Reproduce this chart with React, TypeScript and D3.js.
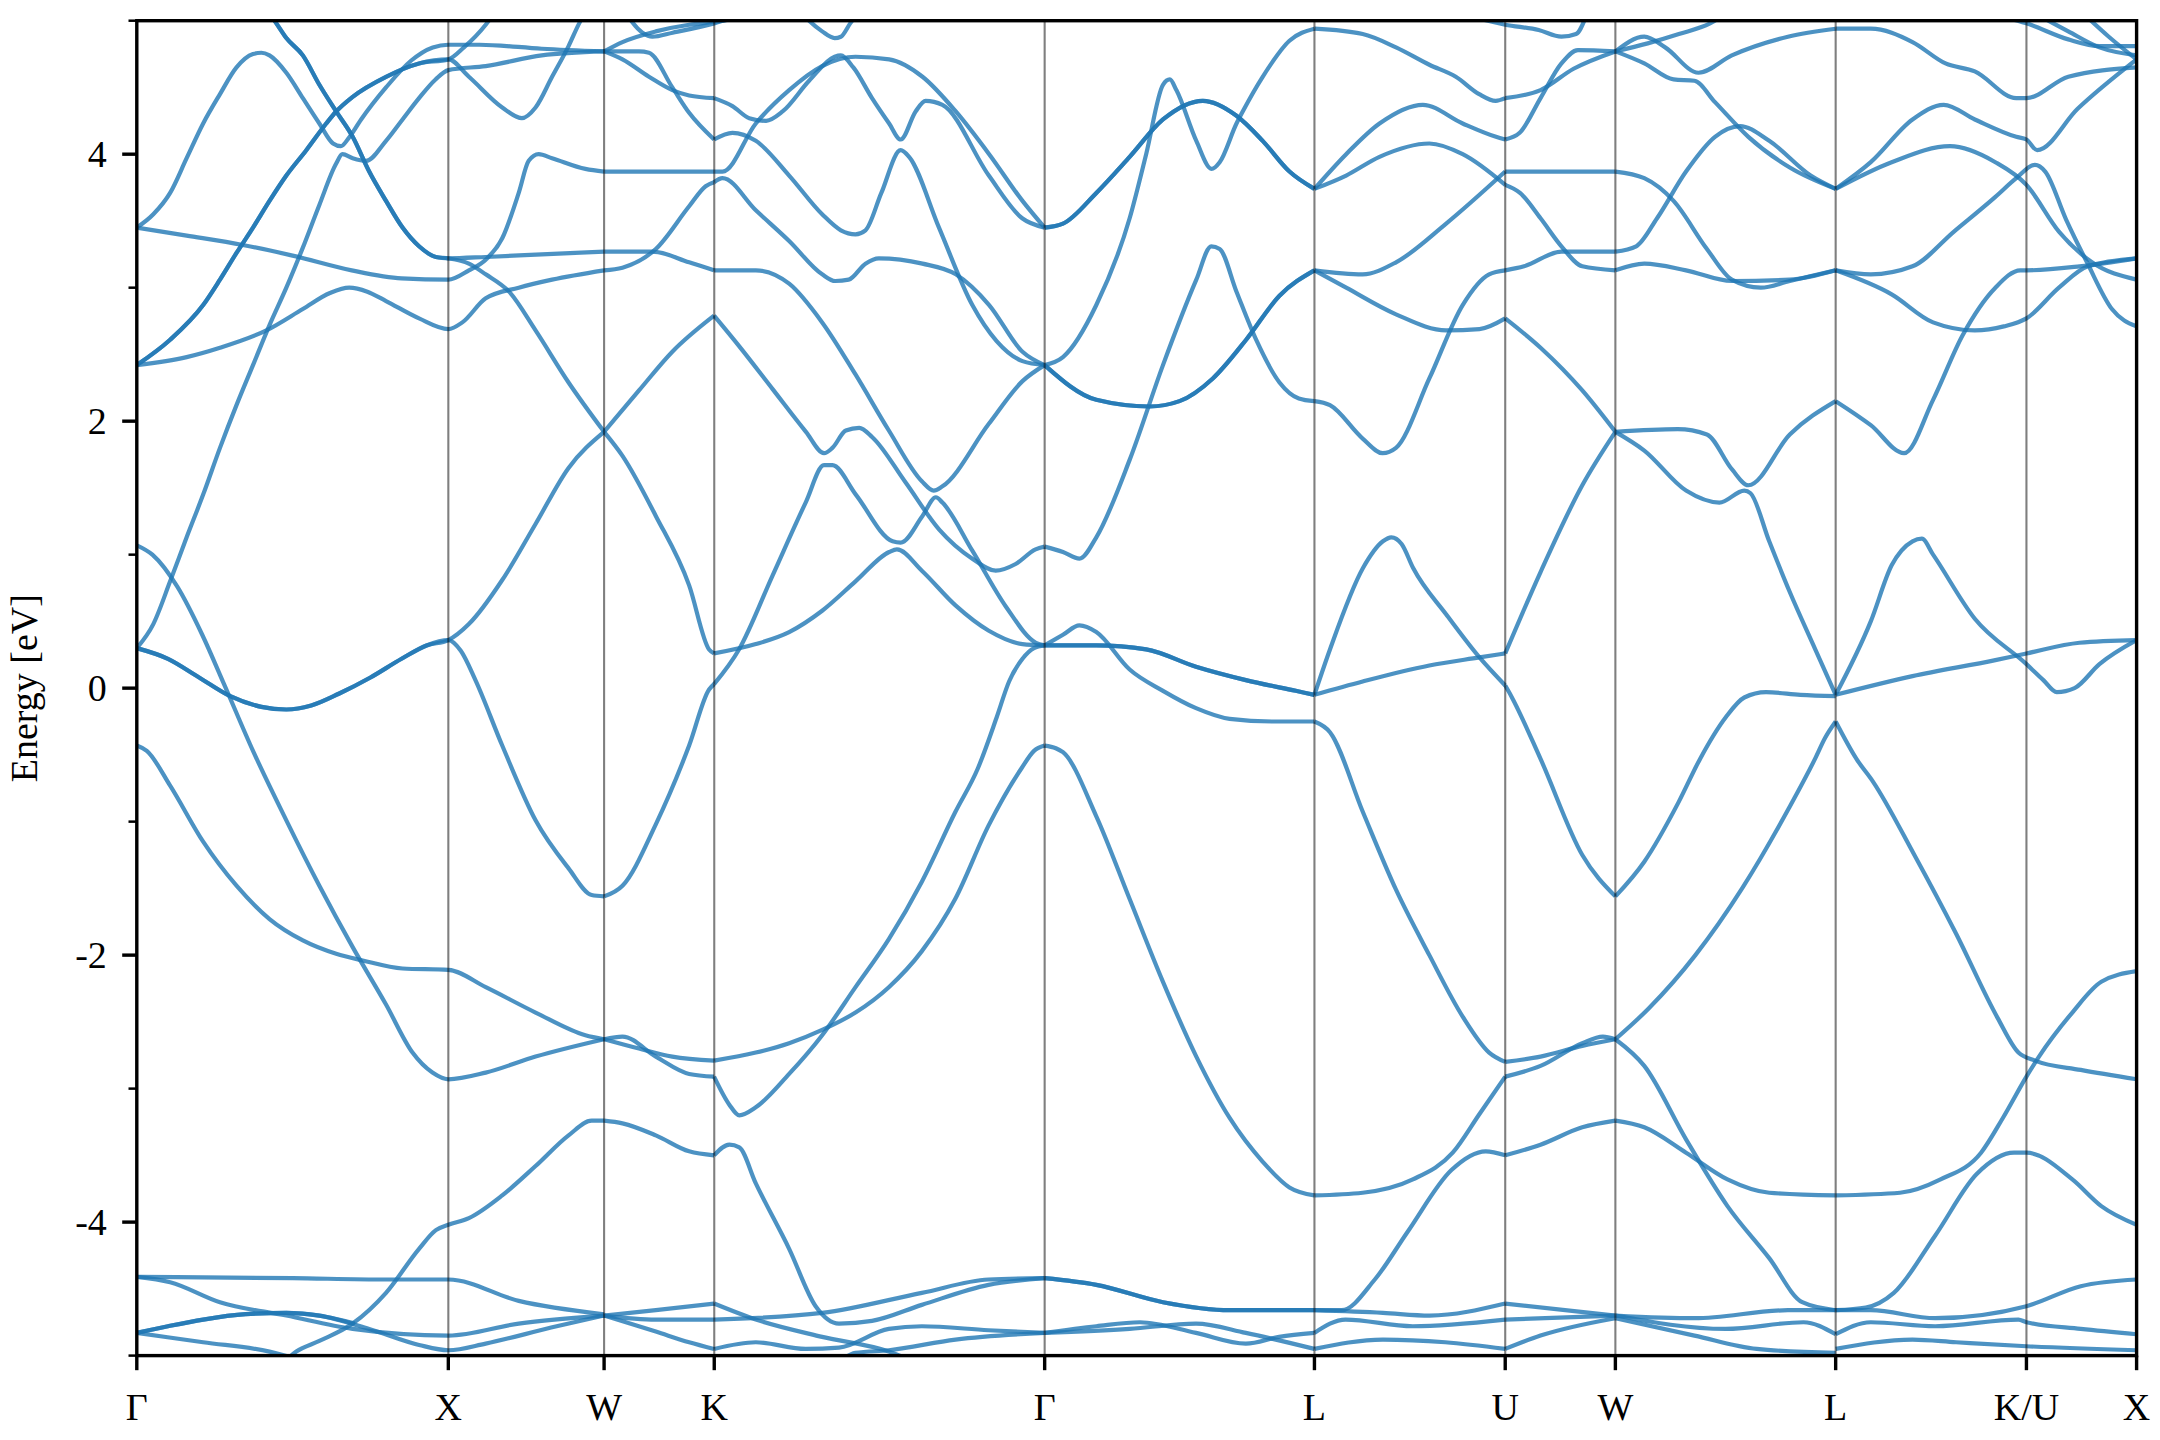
import React from 'react';
import * as d3 from 'd3';

type Pt = [number, number];
type Band = { pts: Pt[]; deg?: number };

// ---------- axis data ----------
const kLabels = ['Γ', 'X', 'W', 'K', 'Γ', 'L', 'U', 'W', 'L', 'K/U', 'X'];
const kTicks = [0, 1, 1.5, 1.8536, 2.9142, 3.7802, 4.3926, 4.7462, 5.4533, 6.0657, 6.4193];
const yMajorTicks = [-4, -2, 0, 2, 4];
const yMinorTicks = [-5, -3, -1, 1, 3, 5];
const yLabel = 'Energy [eV]';

// ---------- bands: Γ – X – W ----------
const d1Common: Pt[] = [[0, 2.42], [0.107, 2.61], [0.213, 2.87], [0.267, 3.06], [0.32, 3.26], [0.373, 3.45], [0.426, 3.65], [0.48, 3.84], [0.544, 4.03], [0.608, 4.23], [0.64, 4.32], [0.693, 4.43], [0.8, 4.58], [0.906, 4.68], [1, 4.71]];
const d1UpTail: Pt[] = [[1.05, 4.8], [1.12, 4.97], [1.16, 5.1]];
const d1DipTail: Pt[] = [[1.066, 4.58], [1.173, 4.35], [1.236, 4.27], [1.28, 4.35], [1.333, 4.58], [1.386, 4.81], [1.42, 4.98], [1.45, 5.1]];
const d2Common: Pt[] = [[0.2, 5.7], [0.35, 5.3], [0.448, 4.98], [0.48, 4.87], [0.533, 4.74], [0.586, 4.52], [0.64, 4.32], [0.693, 4.13], [0.746, 3.87], [0.8, 3.65], [0.853, 3.45], [0.906, 3.31], [0.96, 3.23], [1, 3.22]];
const d2FlatTail: Pt[] = [[1.12, 3.23], [1.3, 3.25], [1.5, 3.27]];
const d2DownTail: Pt[] = [[1.066, 3.18], [1.12, 3.1], [1.195, 2.97], [1.28, 2.68], [1.386, 2.29], [1.5, 1.92]];
const hCommon: Pt[] = [[0, 0.3], [0.1, 0.22], [0.2, 0.08], [0.3, -0.06], [0.4, -0.14], [0.48, -0.16], [0.56, -0.13], [0.65, -0.04], [0.75, 0.08], [0.85, 0.22], [0.93, 0.32], [1, 0.36]];
const hUpTail: Pt[] = [[1.066, 0.48], [1.173, 0.81], [1.28, 1.23], [1.386, 1.65], [1.5, 1.92]];
const hDownTail: Pt[] = [[1.04, 0.28], [1.087, 0.06], [1.173, -0.43], [1.28, -0.99], [1.386, -1.35], [1.46, -1.55], [1.5, -1.56]];

const bandsGXW: Pt[][] = [
  [[0, 3.45], [0.053, 3.55], [0.107, 3.71], [0.16, 3.97], [0.213, 4.23], [0.267, 4.45], [0.32, 4.65], [0.373, 4.75], [0.4, 4.76], [0.426, 4.74], [0.48, 4.61], [0.533, 4.42], [0.586, 4.23], [0.63, 4.08], [0.655, 4.06], [0.68, 4.12], [0.72, 4.26], [0.8, 4.5], [0.88, 4.7], [0.95, 4.8], [1, 4.82], [1.1, 4.82], [1.3, 4.79], [1.5, 4.77]],
  [[0, 0.3], [0.053, 0.48], [0.107, 0.8], [0.16, 1.13], [0.213, 1.45], [0.267, 1.8], [0.32, 2.12], [0.373, 2.42], [0.426, 2.72], [0.48, 3.0], [0.533, 3.3], [0.586, 3.62], [0.64, 3.93], [0.66, 4.0], [0.693, 3.97], [0.736, 3.95], [0.8, 4.1], [0.853, 4.26], [0.906, 4.42], [0.959, 4.56], [1, 4.63], [1.12, 4.66], [1.3, 4.74], [1.5, 4.77]],
  [[0, 3.45], [0.16, 3.39], [0.34, 3.32], [0.5, 3.24], [0.69, 3.13], [0.85, 3.07], [1, 3.06], [1.066, 3.13], [1.12, 3.21], [1.173, 3.37], [1.226, 3.71], [1.258, 3.95], [1.29, 4.0], [1.333, 3.97], [1.44, 3.89], [1.5, 3.87]],
  [...d1Common, ...d1UpTail],
  [...d1Common, ...d1DipTail],
  [...d2Common, ...d2FlatTail],
  [...d2Common, ...d2DownTail],
  [[0, 2.42], [0.16, 2.48], [0.267, 2.55], [0.416, 2.68], [0.533, 2.84], [0.62, 2.96], [0.682, 3.0], [0.74, 2.97], [0.8, 2.9], [0.906, 2.77], [1, 2.69], [1.045, 2.74], [1.12, 2.92], [1.226, 3.0], [1.333, 3.06], [1.5, 3.13]],
  [[0, 1.07], [0.05, 1.0], [0.13, 0.76], [0.21, 0.4], [0.28, 0.03], [0.373, -0.47], [0.48, -0.99], [0.586, -1.48], [0.693, -1.94], [0.8, -2.37], [0.885, -2.73], [0.949, -2.88], [1, -2.93], [1.12, -2.88], [1.28, -2.76], [1.5, -2.63]],
  [[0, -0.43], [0.032, -0.47], [0.107, -0.73], [0.213, -1.15], [0.32, -1.48], [0.426, -1.73], [0.533, -1.89], [0.64, -1.99], [0.725, -2.04], [0.853, -2.1], [1, -2.11], [1.12, -2.24], [1.28, -2.43], [1.44, -2.6], [1.5, -2.63]],
  [...hCommon, ...hUpTail],
  [...hCommon, ...hDownTail],
  [[0, -4.41], [0.5, -4.42], [0.8, -4.43], [1, -4.43], [1.226, -4.59], [1.5, -4.69]],
  [[0, -4.41], [0.107, -4.45], [0.267, -4.6], [0.48, -4.7], [0.693, -4.8], [1, -4.85], [1.226, -4.76], [1.5, -4.7]],
  [[0, -4.83], [0.1, -4.78], [0.213, -4.73], [0.35, -4.69], [0.48, -4.68], [0.586, -4.7], [0.746, -4.8], [0.906, -4.92], [1, -4.96], [1.12, -4.91], [1.33, -4.79], [1.5, -4.7]],
  [[0, -4.83], [0.1, -4.78], [0.213, -4.73], [0.35, -4.69], [0.48, -4.68], [0.586, -4.7], [0.7, -4.76]],
  [[0, -4.83], [0.213, -4.9], [0.426, -4.97], [0.55, -5.05]],
  [[0.45, -5.1], [0.512, -4.97], [0.586, -4.89], [0.693, -4.76], [0.8, -4.53], [0.906, -4.2], [0.96, -4.06], [1, -4.02], [1.066, -3.97], [1.173, -3.8], [1.28, -3.58], [1.386, -3.35], [1.46, -3.24], [1.5, -3.24]],
];

// ---------- bands: W – K ----------
const bandsWK: Pt[][] = [
  [[1.5, 4.77], [1.612, 4.77], [1.644, 4.76], [1.719, 4.5], [1.773, 4.31], [1.853, 4.11]],
  [[1.5, 4.77], [1.559, 4.71], [1.644, 4.58], [1.719, 4.48], [1.773, 4.44], [1.853, 4.42]],
  [[1.5, 4.77], [1.559, 4.84], [1.666, 4.92], [1.773, 4.97], [1.853, 4.99], [1.95, 5.03], [2.05, 5.1]],
  [[1.56, 5.1], [1.59, 4.99], [1.655, 4.88], [1.72, 4.91], [1.853, 4.98], [1.95, 5.05]],
  [[1.5, 3.87], [1.7, 3.87], [1.853, 3.87]],
  [[1.5, 3.27], [1.655, 3.27], [1.773, 3.19], [1.853, 3.13]],
  [[1.5, 3.13], [1.559, 3.15], [1.666, 3.29], [1.773, 3.61], [1.826, 3.76], [1.853, 3.79]],
  [[1.5, 1.92], [1.612, 2.23], [1.719, 2.52], [1.853, 2.79]],
  [[1.5, 1.92], [1.559, 1.74], [1.666, 1.29], [1.773, 0.77], [1.837, 0.29], [1.853, 0.26]],
  [[1.5, -1.56], [1.559, -1.48], [1.666, -1.02], [1.773, -0.43], [1.837, -0.01], [1.853, 0.03]],
  [[1.5, -2.63], [1.559, -2.61], [1.666, -2.76], [1.773, -2.89], [1.853, -2.91]],
  [[1.5, -2.63], [1.612, -2.7], [1.719, -2.76], [1.853, -2.79]],
  [[1.5, -3.24], [1.559, -3.26], [1.666, -3.35], [1.773, -3.47], [1.853, -3.5]],
  [[1.5, -4.7], [1.666, -4.66], [1.853, -4.61]],
  [[1.5, -4.7], [1.666, -4.73], [1.853, -4.73]],
  [[1.5, -4.7], [1.666, -4.82], [1.773, -4.9], [1.853, -4.95]],
];

// ---------- bands: K – Γ ----------
const bandsKG: Pt[][] = [
  [[2.1, 5.15], [2.158, 5.0], [2.2, 4.92], [2.24, 4.87], [2.26, 4.88], [2.29, 4.98], [2.33, 5.1]],
  [[1.853, 4.11], [1.912, 4.16], [1.987, 4.1], [2.094, 3.84], [2.2, 3.55], [2.26, 3.43], [2.307, 3.4], [2.339, 3.43], [2.39, 3.71], [2.452, 4.03], [2.479, 3.98], [2.575, 3.45], [2.682, 2.87], [2.76, 2.6], [2.843, 2.45], [2.914, 2.42]],
  [[1.853, 4.42], [1.912, 4.36], [1.966, 4.27], [2.02, 4.25], [2.073, 4.32], [2.158, 4.55], [2.24, 4.73], [2.26, 4.74], [2.3, 4.65], [2.36, 4.42], [2.415, 4.23], [2.452, 4.11], [2.5, 4.32], [2.532, 4.4], [2.586, 4.37], [2.735, 3.84], [2.842, 3.52], [2.914, 3.45]],
  [[1.853, 3.87], [1.88, 3.87], [1.987, 4.23], [2.094, 4.48], [2.2, 4.66], [2.307, 4.73], [2.415, 4.71], [2.522, 4.58], [2.629, 4.32], [2.736, 4.0], [2.843, 3.65], [2.914, 3.45]],
  [[1.853, 3.79], [1.88, 3.82], [1.987, 3.58], [2.094, 3.35], [2.2, 3.1], [2.242, 3.05], [2.285, 3.06], [2.339, 3.18], [2.382, 3.22], [2.522, 3.18], [2.629, 3.1], [2.736, 2.87], [2.843, 2.52], [2.914, 2.42]],
  [[1.853, 3.13], [1.987, 3.13], [2.094, 3.03], [2.2, 2.74], [2.307, 2.35], [2.414, 1.93], [2.52, 1.55], [2.558, 1.48], [2.585, 1.51], [2.735, 1.98], [2.843, 2.3], [2.914, 2.42]],
  [[1.853, 2.79], [1.934, 2.56], [2.041, 2.24], [2.148, 1.92], [2.206, 1.76], [2.233, 1.8], [2.276, 1.93], [2.319, 1.95], [2.361, 1.88], [2.468, 1.54], [2.575, 1.19], [2.682, 0.97], [2.757, 0.88], [2.821, 0.93], [2.885, 1.04], [2.914, 1.06]],
  [[1.853, 0.26], [1.987, 0.33], [2.094, 0.42], [2.2, 0.58], [2.307, 0.8], [2.415, 1.02], [2.44, 1.04], [2.52, 0.88], [2.628, 0.62], [2.735, 0.43], [2.843, 0.33], [2.914, 0.32]],
  [[1.853, 0.03], [1.933, 0.29], [2.04, 0.84], [2.147, 1.39], [2.206, 1.67], [2.233, 1.67], [2.308, 1.45], [2.426, 1.1], [2.452, 1.09], [2.522, 1.29], [2.565, 1.43], [2.586, 1.39], [2.682, 1.03], [2.79, 0.61], [2.886, 0.34], [2.914, 0.32]],
  [[1.853, -2.91], [1.902, -3.12], [1.934, -3.2], [1.987, -3.14], [2.094, -2.89], [2.2, -2.6], [2.307, -2.24], [2.414, -1.88], [2.52, -1.45], [2.627, -0.93], [2.7, -0.6], [2.76, -0.22], [2.8, 0.05], [2.843, 0.22], [2.88, 0.3], [2.914, 0.32]],
  [[1.853, -2.79], [1.987, -2.73], [2.094, -2.66], [2.2, -2.56], [2.307, -2.43], [2.414, -2.24], [2.52, -1.97], [2.627, -1.58], [2.734, -1.03], [2.84, -0.6], [2.88, -0.47], [2.914, -0.43]],
  [[1.853, -3.5], [1.902, -3.42], [1.934, -3.44], [1.987, -3.71], [2.094, -4.2], [2.179, -4.63], [2.254, -4.76], [2.36, -4.74], [2.52, -4.62], [2.734, -4.47], [2.914, -4.42]],
  [[1.853, -4.61], [1.987, -4.73], [2.2, -4.86], [2.414, -4.97], [2.5, -5.05]],
  [[1.853, -4.73], [2.2, -4.68], [2.52, -4.53], [2.734, -4.43], [2.914, -4.42]],
  [[1.853, -4.95], [1.987, -4.9], [2.147, -4.95], [2.254, -4.94], [2.414, -4.8], [2.52, -4.78], [2.734, -4.81], [2.914, -4.83]],
  [[2.25, -5.05], [2.307, -4.98], [2.414, -4.96], [2.628, -4.88], [2.914, -4.83]],
];

// ---------- bands: Γ – L ----------
const bandsGL: Band[] = [
  { pts: [[2.914, 3.45], [2.973, 3.48], [3.08, 3.71], [3.187, 3.98], [3.294, 4.26], [3.422, 4.4], [3.529, 4.29], [3.614, 4.1], [3.7, 3.87], [3.78, 3.74]], deg: 2 },
  { pts: [[2.914, 2.42], [2.973, 2.48], [3.08, 2.87], [3.187, 3.52], [3.24, 4.0], [3.294, 4.52], [3.316, 4.56], [3.337, 4.48], [3.401, 4.1], [3.45, 3.89], [3.476, 3.94], [3.53, 4.23], [3.55, 4.32], [3.614, 4.58], [3.7, 4.85], [3.78, 4.94]] },
  { pts: [[2.914, 2.42], [3.08, 2.16], [3.251, 2.11], [3.347, 2.15], [3.454, 2.32], [3.561, 2.61], [3.668, 2.94], [3.78, 3.13]], deg: 2 },
  { pts: [[2.914, 1.06], [2.973, 1.02], [3.026, 0.97], [3.08, 1.13], [3.187, 1.71], [3.294, 2.42], [3.401, 3.06], [3.449, 3.31], [3.476, 3.29], [3.53, 2.97], [3.593, 2.61], [3.668, 2.29], [3.73, 2.17], [3.78, 2.15]] },
  { pts: [[2.914, 0.32], [3.08, 0.32], [3.24, 0.29], [3.4, 0.16], [3.56, 0.06], [3.72, -0.02], [3.78, -0.05]], deg: 2 },
  { pts: [[2.914, 0.32], [2.973, 0.4], [3.026, 0.47], [3.08, 0.42], [3.187, 0.14], [3.294, -0.02], [3.4, -0.15], [3.508, -0.23], [3.65, -0.25], [3.78, -0.25]] },
  { pts: [[2.914, -0.43], [2.95, -0.45], [2.973, -0.48], [3.08, -0.96], [3.187, -1.58], [3.294, -2.2], [3.401, -2.76], [3.508, -3.22], [3.615, -3.55], [3.7, -3.74], [3.78, -3.8]] },
  { pts: [[2.914, -4.42], [3.08, -4.47], [3.294, -4.6], [3.508, -4.66], [3.78, -4.66]], deg: 2 },
  { pts: [[2.914, -4.83], [3.08, -4.78], [3.22, -4.75], [3.4, -4.83], [3.56, -4.91], [3.667, -4.86], [3.78, -4.83]] },
  { pts: [[2.914, -4.83], [3.187, -4.8], [3.4, -4.76], [3.56, -4.83], [3.78, -4.95]] },
];

// ---------- bands: L – U ----------
const bandsLU: Pt[][] = [
  [[3.78, 4.94], [3.935, 4.9], [4.042, 4.8], [4.149, 4.67], [4.234, 4.58], [4.309, 4.45], [4.362, 4.4], [4.3926, 4.42]],
  [[3.78, 3.74], [3.882, 4.0], [3.989, 4.23], [4.128, 4.37], [4.256, 4.23], [4.363, 4.13], [4.3926, 4.11]],
  [[3.78, 3.74], [3.882, 3.84], [3.989, 3.98], [4.149, 4.08], [4.256, 4.0], [4.3926, 3.77]],
  [[3.78, 3.13], [3.935, 3.1], [4.042, 3.19], [4.203, 3.48], [4.3926, 3.87]],
  [[3.78, 3.13], [3.882, 3.0], [4.042, 2.8], [4.203, 2.68], [4.31, 2.69], [4.3926, 2.77]],
  [[3.78, 2.15], [3.83, 2.12], [3.935, 1.87], [3.999, 1.76], [4.042, 1.8], [4.149, 2.32], [4.256, 2.87], [4.341, 3.1], [4.3926, 3.13]],
  [[3.78, -0.05], [3.83, 0.29], [3.936, 0.9], [4.0, 1.1], [4.027, 1.13], [4.06, 1.08], [4.097, 0.9], [4.204, 0.55], [4.31, 0.23], [4.3926, 0.02]],
  [[3.78, -0.05], [3.935, 0.05], [4.149, 0.17], [4.31, 0.23], [4.3926, 0.26]],
  [[3.78, -0.25], [3.83, -0.33], [3.936, -0.93], [4.042, -1.51], [4.149, -2.0], [4.256, -2.46], [4.341, -2.73], [4.3926, -2.8]],
  [[3.78, -3.8], [3.935, -3.78], [4.096, -3.68], [4.224, -3.48], [4.31, -3.19], [4.3926, -2.91]],
  [[3.78, -4.66], [3.867, -4.66], [3.974, -4.43], [4.08, -4.07], [4.22, -3.61], [4.33, -3.47], [4.3926, -3.5]],
  [[3.78, -4.66], [4.0, -4.68], [4.15, -4.7], [4.3926, -4.61]],
  [[3.78, -4.83], [3.88, -4.73], [4.096, -4.78], [4.3926, -4.73]],
  [[3.78, -4.95], [4.0, -4.88], [4.2, -4.9], [4.3926, -4.95]],
  [[4.3, 5.02], [4.3926, 4.97], [4.5, 4.93], [4.573, 4.88], [4.62, 4.9], [4.65, 5.02]],
];

// ---------- bands: U – W ----------
const bandsUW: Pt[][] = [
  [[4.3926, 4.42], [4.506, 4.48], [4.612, 4.64], [4.7462, 4.77]],
  [[4.3926, 4.11], [4.439, 4.16], [4.506, 4.42], [4.573, 4.68], [4.626, 4.78], [4.7462, 4.77]],
  [[4.3926, 3.87], [4.7462, 3.87]],
  [[4.3926, 3.77], [4.44, 3.71], [4.506, 3.52], [4.573, 3.31], [4.64, 3.16], [4.7462, 3.13]],
  [[4.3926, 3.13], [4.453, 3.16], [4.573, 3.27], [4.7462, 3.27]],
  [[4.3926, 2.77], [4.506, 2.55], [4.64, 2.23], [4.7462, 1.92]],
  [[4.3926, 0.26], [4.506, 0.87], [4.64, 1.52], [4.7462, 1.92]],
  [[4.3926, 0.02], [4.412, -0.06], [4.506, -0.53], [4.64, -1.25], [4.7462, -1.56]],
  [[4.3926, -2.8], [4.506, -2.76], [4.64, -2.68], [4.7462, -2.63]],
  [[4.3926, -2.91], [4.506, -2.83], [4.64, -2.66], [4.706, -2.61], [4.7462, -2.63]],
  [[4.3926, -3.5], [4.506, -3.42], [4.64, -3.29], [4.7462, -3.24]],
  [[4.3926, -4.61], [4.7462, -4.7]],
  [[4.3926, -4.73], [4.7462, -4.7]],
  [[4.3926, -4.95], [4.506, -4.85], [4.7462, -4.72]],
];

// ---------- bands: W – L ----------
const bandsWL: Pt[][] = [
  [[4.7462, 4.77], [4.839, 4.88], [4.906, 4.8], [5.013, 4.61], [5.12, 4.74], [5.3, 4.88], [5.4533, 4.94]],
  [[4.7462, 4.77], [4.839, 4.68], [4.933, 4.56], [5.0, 4.55], [5.066, 4.39], [5.173, 4.13], [5.306, 3.9], [5.4533, 3.74]],
  [[4.7462, 3.87], [4.839, 3.82], [4.933, 3.65], [5.04, 3.29], [5.12, 3.06], [5.213, 3.0], [5.306, 3.05], [5.4533, 3.13]],
  [[4.7462, 3.13], [4.839, 3.18], [4.973, 3.13], [5.12, 3.05], [5.306, 3.06], [5.4533, 3.13]],
  [[4.7462, 3.27], [4.813, 3.31], [4.88, 3.52], [4.973, 3.87], [5.066, 4.13], [5.146, 4.21], [5.24, 4.1], [5.373, 3.84], [5.4533, 3.74]],
  [[4.7462, 1.92], [4.946, 1.94], [5.04, 1.9], [5.12, 1.64], [5.173, 1.52], [5.306, 1.9], [5.4533, 2.15]],
  [[4.7462, 1.92], [4.839, 1.78], [4.973, 1.48], [5.08, 1.39], [5.16, 1.48], [5.18, 1.46], [5.24, 1.1], [5.306, 0.72], [5.386, 0.3], [5.4533, -0.05]],
  [[4.7462, -1.56], [4.839, -1.3], [4.95, -0.85], [5.018, -0.53], [5.1, -0.22], [5.16, -0.07], [5.23, -0.03], [5.34, -0.05], [5.4533, -0.06]],
  [[4.7462, -2.63], [4.853, -2.4], [5.003, -2.0], [5.153, -1.5], [5.303, -0.9], [5.387, -0.53], [5.42, -0.37], [5.4533, -0.25]],
  [[4.7462, -2.63], [4.839, -2.83], [4.973, -3.38], [5.106, -3.88], [5.24, -4.27], [5.346, -4.6], [5.4533, -4.66]],
  [[4.7462, -3.24], [4.839, -3.29], [4.973, -3.48], [5.106, -3.68], [5.24, -3.78], [5.4533, -3.8]],
  [[4.7462, -4.7], [5.0, -4.72], [5.3, -4.66], [5.4533, -4.66]],
  [[4.7462, -4.7], [5.1, -4.8], [5.35, -4.75], [5.4533, -4.84]],
  [[4.7462, -4.72], [5.0, -4.85], [5.2, -4.95], [5.4533, -4.98]],
  [[4.7462, 4.77], [4.85, 4.83], [4.95, 4.9], [5.05, 4.98], [5.1, 5.05]],
];

// ---------- bands: L – K/U – X ----------
const bandsLKX: Pt[][] = [
  [[5.4533, 4.94], [5.566, 4.94], [5.7, 4.84], [5.806, 4.68], [5.9, 4.62], [6.033, 4.42], [6.0657, 4.42], [6.2, 4.58], [6.4193, 4.65]],
  [[5.4533, 3.74], [5.566, 3.94], [5.7, 4.26], [5.8, 4.37], [5.9, 4.26], [6.033, 4.13], [6.0657, 4.11], [6.1, 4.03], [6.23, 4.34], [6.4193, 4.71]],
  [[5.4533, 3.74], [5.633, 3.94], [5.82, 4.06], [5.966, 3.94], [6.0657, 3.77], [6.17, 3.42], [6.276, 3.19], [6.4193, 3.06]],
  [[5.4533, 3.13], [5.566, 3.1], [5.7, 3.16], [5.833, 3.42], [5.966, 3.68], [6.033, 3.82], [6.093, 3.92], [6.126, 3.87], [6.193, 3.51], [6.26, 3.19], [6.34, 2.84], [6.4193, 2.71]],
  [[5.4533, 3.13], [5.633, 2.95], [5.766, 2.74], [5.9, 2.68], [5.993, 2.71], [6.0657, 2.77], [6.17, 3.0], [6.263, 3.16], [6.4193, 3.22]],
  [[5.4533, 2.15], [5.566, 1.97], [5.673, 1.76], [5.766, 2.16], [5.86, 2.64], [5.966, 3.0], [6.046, 3.13], [6.0657, 3.13], [6.236, 3.16], [6.4193, 3.22]],
  [[5.4533, -0.05], [5.566, 0.5], [5.633, 0.92], [5.7, 1.1], [5.73, 1.12], [5.766, 1.0], [5.9, 0.52], [6.0657, 0.18], [6.12, 0.06], [6.163, -0.03], [6.22, 0.0], [6.3, 0.18], [6.4193, 0.36]],
  [[5.4533, -0.05], [5.7, 0.09], [5.966, 0.21], [6.0657, 0.26], [6.236, 0.34], [6.4193, 0.36]],
  [[5.4533, -0.25], [5.52, -0.53], [5.573, -0.7], [5.706, -1.25], [5.84, -1.84], [5.973, -2.47], [6.04, -2.73], [6.093, -2.79], [6.24, -2.86], [6.4193, -2.93]],
  [[5.4533, -3.8], [5.66, -3.78], [5.79, -3.68], [5.92, -3.48], [5.99, -3.22], [6.0657, -2.91], [6.106, -2.76], [6.213, -2.43], [6.306, -2.2], [6.4193, -2.12]],
  [[5.4533, -4.66], [5.55, -4.64], [5.64, -4.53], [5.773, -4.1], [5.906, -3.64], [6.026, -3.48], [6.0657, -3.48], [6.213, -3.68], [6.306, -3.88], [6.4193, -4.02]],
  [[5.4533, -4.66], [5.566, -4.66], [5.773, -4.72], [6.0657, -4.63], [6.24, -4.48], [6.4193, -4.43]],
  [[5.4533, -4.84], [5.566, -4.75], [5.773, -4.78], [6.04, -4.73], [6.0657, -4.75], [6.24, -4.8], [6.4193, -4.84]],
  [[5.4533, -4.95], [5.7, -4.88], [5.84, -4.9], [6.0657, -4.93], [6.4193, -4.96]],
  [[5.95, 5.05], [6.0657, 4.98], [6.2, 4.86], [6.3, 4.81], [6.4193, 4.81]],
  [[6.12, 5.02], [6.2, 4.92], [6.3, 4.8], [6.4193, 4.74]],
  [[6.25, 5.05], [6.33, 4.88], [6.4193, 4.71]],
];

const allBands: Band[] = [
  ...bandsGXW.map((pts) => ({ pts })),
  ...bandsWK.map((pts) => ({ pts })),
  ...bandsKG.map((pts) => ({ pts })),
  ...bandsGL,
  ...bandsLU.map((pts) => ({ pts })),
  ...bandsUW.map((pts) => ({ pts })),
  ...bandsWL.map((pts) => ({ pts })),
  ...bandsLKX.map((pts) => ({ pts })),
];

export default function App() {
  const W = 2160;
  const H = 1440;
  const left = 136.8;
  const right = 2136.6;
  const top = 20.7;
  const bottom = 1355.6;
  const x = d3.scaleLinear().domain([kTicks[0], kTicks[kTicks.length - 1]]).range([left, right]);
  const y = d3.scaleLinear().domain([-5, 5]).range([bottom, top]);
  const line = d3
    .line<Pt>()
    .x((d) => x(d[0]))
    .y((d) => y(d[1]))
    .curve(d3.curveMonotoneX);

  const font = "'Liberation Serif', 'DejaVu Serif', serif";
  const fs = 38;

  const paths: React.ReactNode[] = [];
  allBands.forEach((b, i) => {
    const d = line(b.pts) || '';
    const n = b.deg || 1;
    for (let j = 0; j < n; j++) {
      paths.push(
        <path key={`b${i}-${j}`} d={d} fill="none" stroke="#1f77b4" strokeOpacity={0.8} strokeWidth={4.2} strokeLinejoin="round" />
      );
    }
  });

  return (
    <svg width={W} height={H} viewBox={`0 0 ${W} ${H}`} style={{ position: 'absolute', left: 0, top: 0, background: '#ffffff' }}>
      <defs>
        <clipPath id="plotclip">
          <rect x={left} y={top} width={right - left} height={bottom - top} />
        </clipPath>
      </defs>
      <rect x={0} y={0} width={W} height={H} fill="#ffffff" />
      <g clipPath="url(#plotclip)">{paths}</g>
      <g>
        {kTicks.slice(1, -1).map((k, i) => (
          <line key={`v${i}`} x1={x(k)} x2={x(k)} y1={top} y2={bottom} stroke="#000" strokeOpacity={0.5} strokeWidth={2.1} />
        ))}
      </g>
      <rect x={left} y={top} width={right - left} height={bottom - top} fill="none" stroke="#000" strokeWidth={3.4} />
      <g>
        {yMajorTicks.map((t) => (
          <g key={`ym${t}`}>
            <line x1={left - 14.6} x2={left} y1={y(t)} y2={y(t)} stroke="#000" strokeWidth={3.4} />
            <text x={left - 30} y={y(t)} textAnchor="end" dominantBaseline="central" fontFamily={font} fontSize={fs}>
              {String(t)}
            </text>
          </g>
        ))}
        {yMinorTicks.map((t) => (
          <line key={`yn${t}`} x1={left - 8.3} x2={left} y1={y(t)} y2={y(t)} stroke="#000" strokeWidth={2.5} />
        ))}
        {kTicks.map((k, i) => (
          <g key={`xt${i}`}>
            <line x1={x(k)} x2={x(k)} y1={bottom} y2={bottom + 14.6} stroke="#000" strokeWidth={3.4} />
            <text x={x(k)} y={bottom + 64} textAnchor="middle" fontFamily={font} fontSize={fs}>
              {kLabels[i]}
            </text>
          </g>
        ))}
        <text
          transform={`translate(${23.5},${(top + bottom) / 2}) rotate(-90)`}
          textAnchor="middle"
          dominantBaseline="central"
          fontFamily={font}
          fontSize={fs}
        >
          {yLabel}
        </text>
      </g>
    </svg>
  );
}
